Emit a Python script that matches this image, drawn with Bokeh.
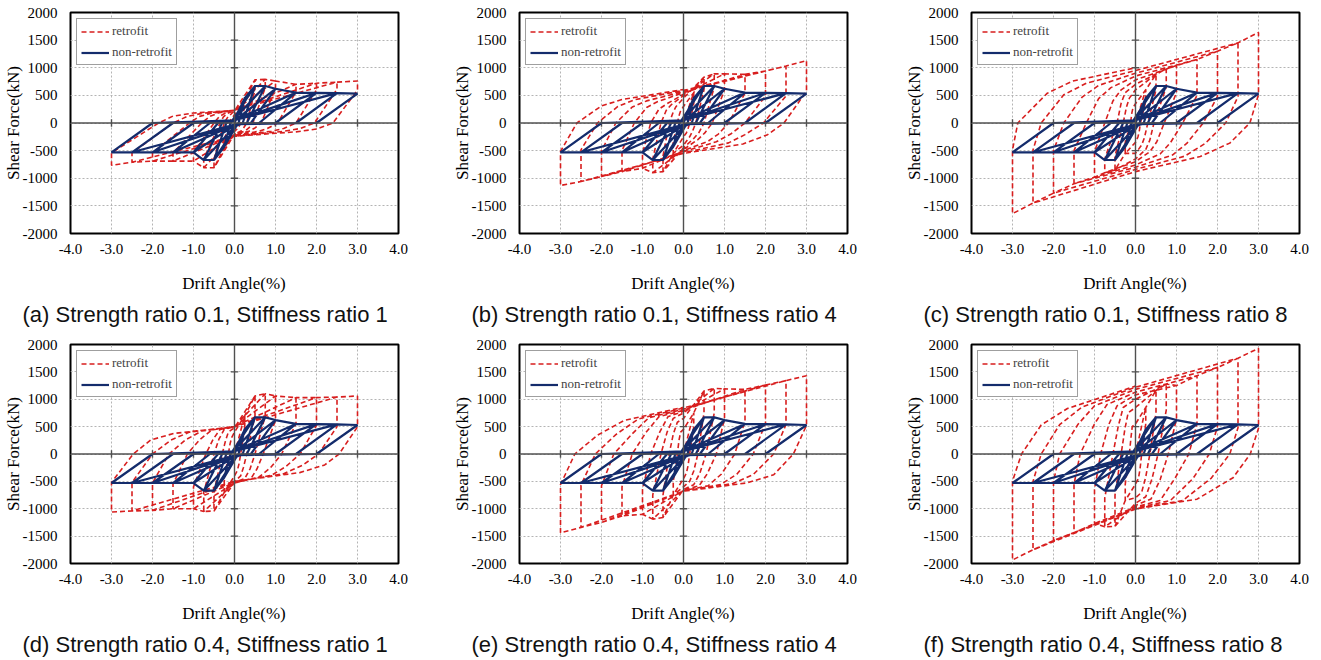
from bokeh.plotting import figure
from bokeh.models import FixedTicker, Span, Title, Legend, LegendItem, NumeralTickFormatter
from bokeh.layouts import row, column
from bokeh.embed import file_html
from bokeh.resources import INLINE

# ---------------- data ----------------
AMPS = [0.25, 0.5, 0.75, 1.0, 1.5, 2.0, 2.5, 3.0]
X_TICKS = [-4.0, -3.0, -2.0, -1.0, 0.0, 1.0, 2.0, 3.0, 4.0]
Y_TICKS = [-2000, -1500, -1000, -500, 0, 500, 1000, 1500, 2000]
CAPTIONS = [
    "(a) Strength ratio 0.1, Stiffness ratio 1",
    "(b) Strength ratio 0.1, Stiffness ratio 4",
    "(c) Strength ratio 0.1, Stiffness ratio 8",
    "(d) Strength ratio 0.4, Stiffness ratio 1",
    "(e) Strength ratio 0.4, Stiffness ratio 4",
    "(f) Strength ratio 0.4, Stiffness ratio 8",
]

# non-retrofit (same in every panel)
BLUE_X = [0, 0.25, 0.1, 0.0, -0.25, -0.1, 0.0,
          0.25, 0.5, 0.2, 0.05, -0.25, -0.5, -0.2, -0.05,
          0.5, 0.75, 0.3, 0.05, -0.5, -0.75, -0.3, -0.05,
          0.75, 1.0, 0.4, 0.05, -0.75, -1.0, -0.4, 0.0,
          1.0, 1.5, 0.6, 0.05, -1.0, -1.5, -0.6, 0.0,
          1.5, 2.0, 1.0, 0.05, -1.5, -2.0, -1.0, 0.0,
          2.0, 2.5, 1.5, 0.05, -2.0, -2.5, -1.5, 0.0,
          2.5, 3.0, 2.0, 0.05, -2.5, -3.0, -2.0, 0.0]
BLUE_Y = [0, 450, 0, -60, -430, 0, 60,
          450, 670, 0, -50, -430, -670, 0, 50,
          670, 670, 0, -40, -670, -670, 0, 40,
          670, 620, 0, -30, -670, -530, 0, 40,
          620, 550, 0, -20, -530, -530, 0, 50,
          550, 545, 0, -20, -530, -530, 0, 50,
          545, 540, 0, -20, -530, -530, 0, 50,
          540, 530, 0, -20, -530, -530, 0, 50]

# retrofit, per amplitude (AMPS):
# PP peak, PD force after the drop, PX0 zero crossing, PB bend point, PK knee point, PY0 force at x=0
# N* the same for the negative half cycle
A_PP = [420, 780, 790, 760, 700, 720, 740, 760]
A_PD = [300, 600, 640, 620, 560, 600, 610, 594]
A_PX0 = [0.15, 0.3, 0.45, 0.65, 1.05, 1.5, 1.95, 2.4]
A_PBX = [0.11, 0.22, 0.35, 0.5, 0.8, 1.2, 1.6, 2.0]
A_PBY = [-60, -90, -90, -90, -100, -100, -100, -110]
A_PKX = [0.08, 0.15, 0.25, 0.35, 0.6, 0.9, 1.2, 1.5]
A_PKY = [-100, -150, -150, -150, -150, -150, -150, -160]
A_PY0 = [-150, -200, -200, -220, -220, -230, -240, -240]
A_NP = [-450, -810, -810, -690, -690, -690, -710, -765]
A_ND = [-300, -650, -650, -540, -540, -540, -540, -540]
A_NX0 = [-0.12, -0.25, -0.35, -0.5, -0.8, -1.1, -1.5, -1.85]
A_NBX = [-0.09, -0.18, -0.27, -0.38, -0.6, -0.85, -1.15, -1.5]
A_NBY = [60, 90, 110, 110, 120, 120, 120, 125]
A_NKX = [-0.05, -0.1, -0.18, -0.25, -0.4, -0.55, -0.75, -1.0]
A_NKY = [100, 150, 170, 170, 180, 180, 180, 180]
A_NY0 = [150, 220, 230, 230, 230, 230, 230, 230]

B_PP = [550, 830, 890, 890, 880, 940, 1030, 1130]
B_PD = [350, 600, 650, 600, 540, 490, 490, 576]
B_PX0 = [0.15, 0.3, 0.5, 0.7, 1.1, 1.5, 1.95, 2.45]
B_PBX = [0.11, 0.22, 0.38, 0.52, 0.85, 1.15, 1.5, 2.05]
B_PBY = [-110, -150, -170, -180, -200, -200, -210, -212]
B_PKX = [0.07, 0.15, 0.25, 0.35, 0.6, 0.8, 1.1, 1.45]
B_PKY = [-180, -250, -280, -300, -330, -340, -360, -380]
B_PY0 = [-250, -400, -450, -480, -500, -520, -540, -550]
B_NP = [-550, -880, -900, -820, -880, -970, -1060, -1130]
B_ND = [-350, -600, -650, -550, -500, -500, -485, -515]
B_NX0 = [-0.15, -0.35, -0.55, -0.8, -1.2, -1.65, -2.1, -2.6]
B_NBX = [-0.11, -0.25, -0.42, -0.6, -0.9, -1.25, -1.6, -2.0]
B_NBY = [130, 200, 230, 250, 280, 290, 300, 310]
B_NKX = [-0.08, -0.18, -0.3, -0.4, -0.65, -0.9, -1.2, -1.5]
B_NKY = [200, 300, 330, 350, 380, 400, 420, 424]
B_NY0 = [300, 450, 500, 520, 550, 570, 590, 606]

C_PP = [600, 880, 980, 1040, 1150, 1300, 1450, 1640]
C_PD = [400, 600, 650, 550, 500, 480, 480, 515]
C_PX0 = [0.12, 0.3, 0.45, 0.7, 1.15, 1.65, 2.2, 2.79]
C_PBX = [0.09, 0.22, 0.35, 0.52, 0.85, 1.25, 1.7, 2.3]
C_PBY = [-160, -260, -310, -340, -360, -370, -370, -364]
C_PKX = [0.06, 0.15, 0.25, 0.35, 0.6, 0.9, 1.2, 1.58]
C_PKY = [-250, -400, -480, -520, -560, -580, -600, -606]
C_PY0 = [-350, -550, -650, -700, -760, -800, -840, -880]
C_NP = [-550, -850, -900, -980, -1100, -1270, -1450, -1640]
C_ND = [-350, -600, -650, -520, -500, -500, -490, -485]
C_NX0 = [-0.12, -0.3, -0.45, -0.75, -1.2, -1.75, -2.3, -2.87]
C_NBX = [-0.09, -0.22, -0.35, -0.55, -0.9, -1.3, -1.75, -2.15]
C_NBY = [180, 290, 360, 400, 440, 470, 510, 540]
C_NKX = [-0.06, -0.15, -0.25, -0.35, -0.6, -0.9, -1.2, -1.54]
C_NKY = [280, 450, 550, 600, 640, 680, 720, 757]
C_NY0 = [350, 600, 700, 780, 850, 900, 950, 1000]

D_PP = [700, 1060, 1100, 1060, 1030, 1030, 1040, 1060]
D_PD = [500, 700, 700, 615, 555, 525, 500, 496]
D_PX0 = [0.15, 0.3, 0.5, 0.7, 1.15, 1.6, 2.05, 2.55]
D_PBX = [0.11, 0.22, 0.38, 0.55, 0.88, 1.25, 1.65, 2.2]
D_PBY = [-180, -240, -270, -270, -250, -230, -210, -200]
D_PKX = [0.07, 0.15, 0.25, 0.4, 0.6, 0.9, 1.2, 1.59]
D_PKY = [-300, -400, -450, -450, -420, -390, -360, -340]
D_PY0 = [-400, -500, -520, -530, -530, -520, -510, -500]
D_NP = [-700, -1040, -1050, -1000, -1000, -1030, -1040, -1060]
D_ND = [-500, -700, -700, -600, -550, -530, -520, -520]
D_NX0 = [-0.15, -0.3, -0.5, -0.7, -1.15, -1.6, -2.0, -2.47]
D_NBX = [-0.11, -0.22, -0.38, -0.52, -0.85, -1.2, -1.55, -2.04]
D_NBY = [180, 240, 270, 270, 260, 255, 255, 257]
D_NKX = [-0.07, -0.15, -0.25, -0.35, -0.55, -0.8, -1.1, -1.48]
D_NKY = [300, 400, 450, 450, 440, 420, 400, 376]
D_NY0 = [400, 480, 500, 500, 500, 500, 500, 496]

E_PP = [750, 1150, 1200, 1190, 1180, 1260, 1340, 1430]
E_PD = [500, 750, 750, 650, 600, 560, 540, 523]
E_PX0 = [0.15, 0.35, 0.55, 0.8, 1.25, 1.7, 2.2, 2.68]
E_PBX = [0.11, 0.25, 0.4, 0.58, 0.92, 1.3, 1.7, 2.2]
E_PBY = [-220, -310, -350, -360, -370, -370, -375, -380]
E_PKX = [0.07, 0.15, 0.25, 0.38, 0.6, 0.9, 1.2, 1.54]
E_PKY = [-350, -500, -560, -580, -580, -560, -540, -529]
E_PY0 = [-450, -600, -650, -660, -670, -680, -680, -680]
E_NP = [-750, -1160, -1190, -1100, -1130, -1250, -1340, -1440]
E_ND = [-500, -750, -750, -650, -600, -580, -570, -559]
E_NX0 = [-0.15, -0.35, -0.55, -0.8, -1.25, -1.7, -2.15, -2.65]
E_NBX = [-0.11, -0.25, -0.4, -0.58, -0.92, -1.25, -1.65, -2.1]
E_NBY = [250, 360, 400, 400, 390, 370, 355, 342]
E_NKX = [-0.07, -0.15, -0.25, -0.38, -0.6, -0.85, -1.1, -1.45]
E_NKY = [400, 580, 650, 680, 680, 660, 640, 613]
E_NY0 = [450, 650, 750, 780, 800, 820, 840, 853]

F_PP = [850, 1160, 1280, 1250, 1430, 1580, 1750, 1930]
F_PD = [550, 750, 800, 650, 550, 500, 480, 470]
F_PX0 = [0.15, 0.35, 0.55, 0.8, 1.3, 1.8, 2.3, 2.8]
F_PBX = [0.11, 0.25, 0.4, 0.6, 0.95, 1.4, 1.85, 2.38]
F_PBY = [-280, -420, -460, -470, -460, -450, -440, -433]
F_PKX = [0.07, 0.15, 0.25, 0.38, 0.6, 0.85, 1.15, 1.5]
F_PKY = [-450, -700, -780, -820, -850, -850, -850, -825]
F_PY0 = [-550, -800, -900, -940, -970, -990, -1000, -1005]
F_NP = [-850, -1320, -1330, -1270, -1440, -1580, -1750, -1935]
F_ND = [-550, -750, -800, -650, -550, -500, -500, -494]
F_NX0 = [-0.15, -0.35, -0.55, -0.85, -1.35, -1.85, -2.3, -2.78]
F_NBX = [-0.11, -0.26, -0.42, -0.65, -1.0, -1.4, -1.85, -2.3]
F_NBY = [300, 450, 510, 540, 550, 545, 535, 530]
F_NKX = [-0.08, -0.18, -0.3, -0.45, -0.7, -1.0, -1.3, -1.66]
F_NKY = [500, 750, 850, 880, 900, 880, 860, 831]
F_NY0 = [550, 850, 1000, 1080, 1130, 1180, 1220, 1240]

PANELS = [
    (A_PP, A_PD, A_PX0, A_PBX, A_PBY, A_PKX, A_PKY, A_PY0,
     A_NP, A_ND, A_NX0, A_NBX, A_NBY, A_NKX, A_NKY, A_NY0),
    (B_PP, B_PD, B_PX0, B_PBX, B_PBY, B_PKX, B_PKY, B_PY0,
     B_NP, B_ND, B_NX0, B_NBX, B_NBY, B_NKX, B_NKY, B_NY0),
    (C_PP, C_PD, C_PX0, C_PBX, C_PBY, C_PKX, C_PKY, C_PY0,
     C_NP, C_ND, C_NX0, C_NBX, C_NBY, C_NKX, C_NKY, C_NY0),
    (D_PP, D_PD, D_PX0, D_PBX, D_PBY, D_PKX, D_PKY, D_PY0,
     D_NP, D_ND, D_NX0, D_NBX, D_NBY, D_NKX, D_NKY, D_NY0),
    (E_PP, E_PD, E_PX0, E_PBX, E_PBY, E_PKX, E_PKY, E_PY0,
     E_NP, E_ND, E_NX0, E_NBX, E_NBY, E_NKX, E_NKY, E_NY0),
    (F_PP, F_PD, F_PX0, F_PBX, F_PBY, F_PKX, F_PKY, F_PY0,
     F_NP, F_ND, F_NX0, F_NBX, F_NBY, F_NKX, F_NKY, F_NY0),
]

RED = "#d81e1e"
NAVY = "#142c6c"
AXIS_GREY = "#505050"


def red_path(pp, pd, px0, pbx, pby, pkx, pky, py0, npk, nd, nx0, nbx, nby, nkx, nky, ny0):
    xs, ys = [0.0], [0.0]
    for i, d in enumerate(AMPS):
        if i > 0:
            xs.append(AMPS[i - 1]); ys.append(pp[i - 1])
        xs += [d, d, px0[i], pbx[i], pkx[i], 0.0]
        ys += [pp[i], pd[i], 0.0, pby[i], pky[i], py0[i]]
        if i > 0:
            xs.append(-AMPS[i - 1]); ys.append(npk[i - 1])
        xs += [-d, -d, nx0[i], nbx[i], nkx[i], 0.0]
        ys += [npk[i], nd[i], 0.0, nby[i], nky[i], ny0[i]]
    return xs, ys


def make_panel(k, width, height, bl, br, bt, bb):
    p = figure(width=width, height=height, x_range=(-4, 4), y_range=(-2000, 2000),
               output_backend="svg", toolbar_location=None,
               min_border_left=bl, min_border_right=br, min_border_top=bt, min_border_bottom=bb)
    p.outline_line_color = "black"
    p.outline_line_width = 2
    p.background_fill_color = "white"
    p.border_fill_color = "white"

    for ax in (p.xaxis[0], p.yaxis[0]):
        ax.axis_line_color = None
        ax.major_tick_line_color = None
        ax.minor_tick_line_color = None
        ax.major_tick_out = 0
        ax.major_tick_in = 0
        ax.minor_tick_out = 0
        ax.minor_tick_in = 0
        ax.major_label_text_font = "Liberation Serif"
        ax.major_label_text_font_size = "15px"
        ax.major_label_text_color = "black"
        ax.axis_label_text_font = "Liberation Serif"
        ax.axis_label_text_font_size = "17px"
        ax.axis_label_text_font_style = "normal"
        ax.axis_label_text_color = "black"

    p.xaxis.ticker = FixedTicker(ticks=X_TICKS)
    p.yaxis.ticker = FixedTicker(ticks=Y_TICKS)
    p.xaxis.formatter = NumeralTickFormatter(format="0.0")
    p.yaxis.formatter = NumeralTickFormatter(format="0")
    p.xaxis.axis_label = "Drift Angle(%)"
    p.yaxis.axis_label = "Shear Force(kN)"
    p.xaxis.major_label_standoff = 10
    p.xaxis.axis_label_standoff = 17
    p.yaxis.major_label_standoff = 13
    p.yaxis.axis_label_standoff = -3

    p.xgrid.ticker = FixedTicker(ticks=X_TICKS)
    p.ygrid.ticker = FixedTicker(ticks=Y_TICKS)
    for g in (p.xgrid[0], p.ygrid[0]):
        g.grid_line_color = "#b4b4b4"
        g.grid_line_dash = "2 2"
        g.grid_line_width = 1

    # axes crossing at zero, with their tick marks
    p.add_layout(Span(location=0, dimension="height", line_color=AXIS_GREY, line_width=1.4))
    p.add_layout(Span(location=0, dimension="width", line_color=AXIS_GREY, line_width=1.4))
    inner_x = [t for t in X_TICKS if t != 0 and abs(t) < 4]
    inner_y = [t for t in Y_TICKS if t != 0 and abs(t) < 2000]
    p.segment(x0=inner_x, y0=[-70] * len(inner_x), x1=inner_x, y1=[70] * len(inner_x),
              line_color=AXIS_GREY, line_width=1.4)
    p.segment(x0=[-0.09] * len(inner_y), y0=inner_y, x1=[0.09] * len(inner_y), y1=inner_y,
              line_color=AXIS_GREY, line_width=1.4)

    rx, ry = red_path(*PANELS[k])
    r_red = p.line(rx, ry, line_color=RED, line_width=1.6, line_dash="5 3")
    r_blue = p.line(BLUE_X, BLUE_Y, line_color=NAVY, line_width=2.2)

    legend = Legend(items=[LegendItem(label="retrofit", renderers=[r_red]),
                           LegendItem(label="non-retrofit", renderers=[r_blue])],
                    location="top_left")
    legend.border_line_color = "#404040"
    legend.border_line_width = 1.5
    legend.background_fill_alpha = 1.0
    legend.label_text_font = "Liberation Serif"
    legend.label_text_font_size = "13px"
    legend.glyph_width = 28
    legend.glyph_height = 15
    legend.label_height = 15
    legend.label_standoff = 3
    legend.spacing = 5
    legend.padding = 4
    legend.margin = 6
    p.add_layout(legend)

    p.add_layout(Title(text=CAPTIONS[k], text_font="Liberation Sans", text_font_size="22px",
                       text_font_style="normal", text_color="#111111", align="left",
                       offset=-48, standoff=8), "below")
    return p


WIDTHS = [449, 452, 420]
RIGHT = [51, 54, 22]
row1 = [make_panel(i, WIDTHS[i], 332, 68, RIGHT[i], 12, 99) for i in range(3)]
row2 = [make_panel(i + 3, WIDTHS[i], 328, 68, RIGHT[i], 12, 94) for i in range(3)]
layout = column(row(*row1), row(*row2))

open("out.html", "w").write(file_html(layout, INLINE))
